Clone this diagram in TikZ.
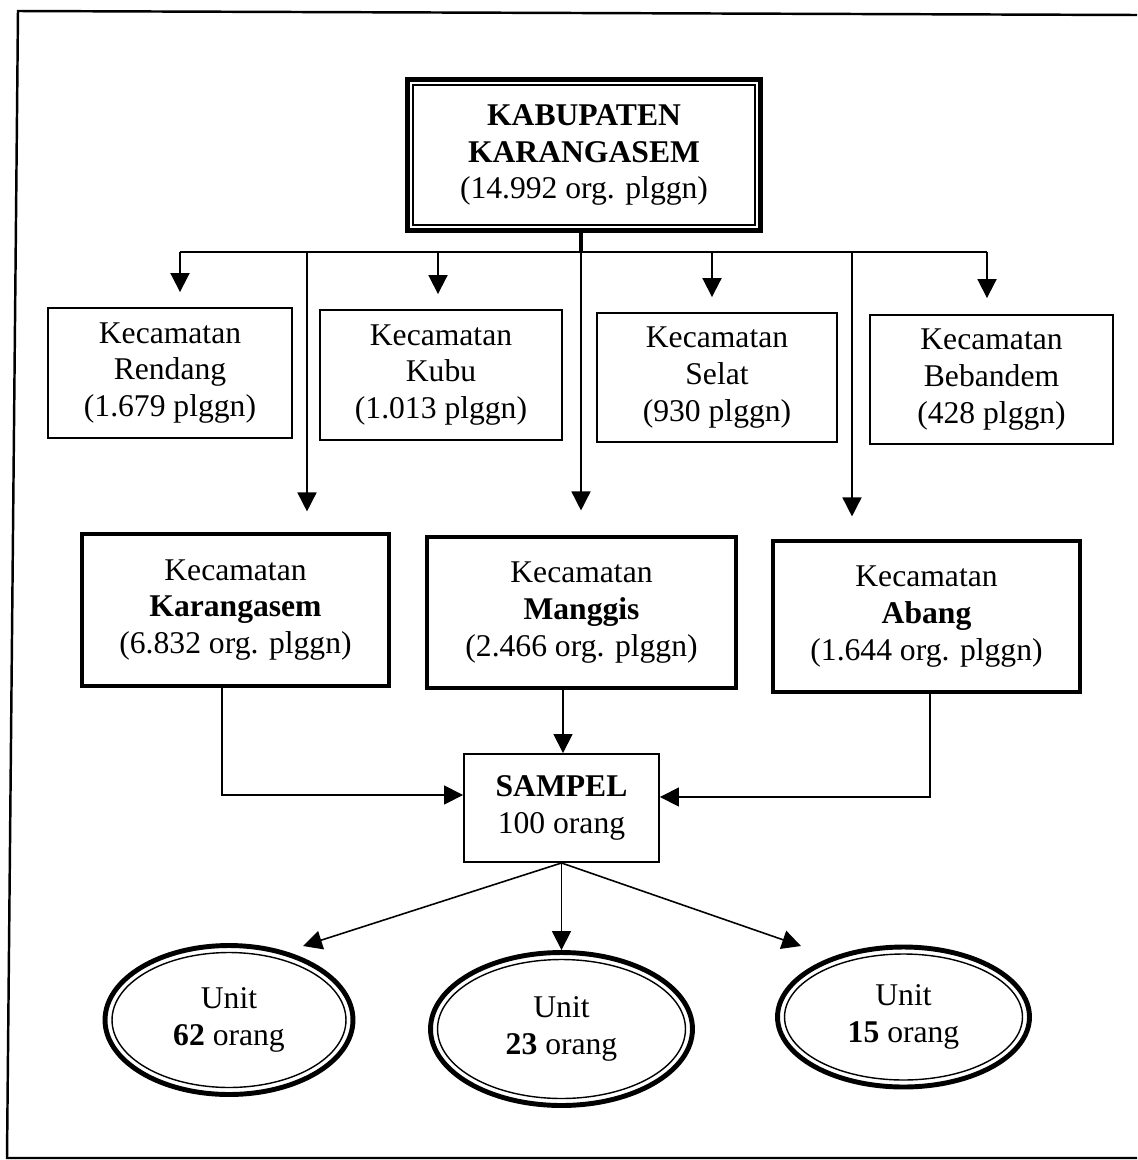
\documentclass[tikz,border=0pt]{standalone}
\usepackage{fontspec}
\setmainfont{Liberation Serif}
\usetikzlibrary{arrows.meta,shapes.geometric}
\begin{document}
\begin{tikzpicture}[x=0.02cm,y=-0.02cm,
  lbl/.style={align=center,font=\fontsize{18}{21}\selectfont,inner sep=0pt},
  plainbox/.style={lbl,draw,line width=1.1pt},
  boldbox/.style={lbl,draw,line width=1.8pt},
  topbox/.style={lbl,draw,line width=2.8pt},
  unitoval/.style={lbl,draw,ellipse,line width=2.8pt},
  innerline/.style={line width=0.8pt},
  conn/.style={line width=0.9pt},
  arr/.style={conn,-{Triangle[length=0.38cm,width=0.38cm]}},
]
\useasboundingbox (0,0) rectangle (1137,1160);

% page frame
\draw[line width=1.4pt] (1137,15) -- (18,11) -- (7,1158) -- (1137,1158);

% regency (top) box with double border
\node[topbox,minimum width=7.06cm,minimum height=3.02cm] (kab) at (584,155)
  {\textbf{KABUPATEN}\\\textbf{KARANGASEM}\\(14.992 org. plggn)};
\draw[innerline] ([shift={(8,8)}]kab.north west) rectangle ([shift={(-8,-8)}]kab.south east);

% districts, upper row
\node[plainbox,minimum width=4.88cm,minimum height=2.6cm] (r1) at (170,373)
  {Kecamatan\\Rendang\\(1.679 plggn)};
\node[plainbox,minimum width=4.84cm,minimum height=2.6cm] (r2) at (441,375)
  {Kecamatan\\Kubu\\(1.013 plggn)};
\node[plainbox,minimum width=4.8cm,minimum height=2.58cm] (r3) at (717,377.5)
  {Kecamatan\\Selat\\(930 plggn)};
\node[plainbox,minimum width=4.86cm,minimum height=2.58cm] (r4) at (991.5,379.5)
  {Kecamatan\\Bebandem\\(428 plggn)};

% sampled districts
\node[boldbox,minimum width=6.14cm,minimum height=3.04cm] (k1) at (235.5,610)
  {Kecamatan\\\textbf{Karangasem}\\(6.832 org. plggn)};
\node[boldbox,minimum width=6.18cm,minimum height=3.02cm] (m1) at (581.5,612.5)
  {Kecamatan\\\textbf{Manggis}\\(2.466 org. plggn)};
\node[boldbox,minimum width=6.14cm,minimum height=3.02cm] (a1) at (926.5,616.5)
  {Kecamatan\\\textbf{Abang}\\(1.644 org. plggn)};

% sample box
\node[plainbox,minimum width=3.9cm,minimum height=2.16cm] (s) at (561.5,808)
  {\textbf{SAMPEL}\\100 orang};

% units
\node[unitoval,minimum width=4.96cm,minimum height=2.98cm] (u1) at (229,1020)
  {Unit\\\textbf{62} orang};
\draw[innerline] (u1.center) ellipse [x radius=2.34cm, y radius=1.35cm];
\node[unitoval,minimum width=5.24cm,minimum height=3.06cm] (u2) at (561.5,1029)
  {Unit\\\textbf{23} orang};
\draw[innerline] (u2.center) ellipse [x radius=2.48cm, y radius=1.39cm];
\node[unitoval,minimum width=5.04cm,minimum height=2.8cm] (u3) at (903.5,1017)
  {Unit\\\textbf{15} orang};
\draw[innerline] (u3.center) ellipse [x radius=2.38cm, y radius=1.26cm];

% distribution bus
\coordinate (bus) at (581,252);
\coordinate (b1) at (180,252);
\coordinate (b2) at (307,252);
\coordinate (b3) at (438,252);
\coordinate (b4) at (712,252);
\coordinate (b5) at (852,252);
\coordinate (b6) at (987,252);
\draw[line width=2.3pt] (kab.south -| bus) -- (bus);
\draw[line width=1.7pt] (b1) -- (b6);

\draw[arr,line width=1.1pt,shorten >=0.3cm] (b1) -- (b1 |- r1.north);
\draw[arr,line width=1.1pt,shorten >=0.3cm] (b3) -- (b3 |- r2.north);
\draw[arr,line width=1.1pt,shorten >=0.3cm] (b4) -- (b4 |- r3.north);
\draw[arr,line width=1.1pt,shorten >=0.32cm] (b6) -- (b6 |- r4.north);

\draw[arr,shorten >=0.42cm] (b2) -- (b2 |- k1.north);
\draw[arr,shorten >=0.5cm] (bus) -- (bus |- m1.north);
\draw[arr,shorten >=0.46cm] (b5) -- (b5 |- a1.north);

% districts into the sample
\draw[arr] (k1.south -| 222,0) |- (s.west |- 0,795);
\draw[arr] (m1.south -| 563,0) -- (s.north -| 563,0);
\draw[arr] (a1.south -| 930,0) |- (s.east |- 0,797);

% sample split into units
\coordinate (t1) at (303,946);
\coordinate (t3) at (801,946);
\draw[arr] (s.south) -- (t1);
\draw[arr] (s.south) -- (u2.north);
\draw[arr] (s.south) -- (t3);
\end{tikzpicture}
\end{document}
